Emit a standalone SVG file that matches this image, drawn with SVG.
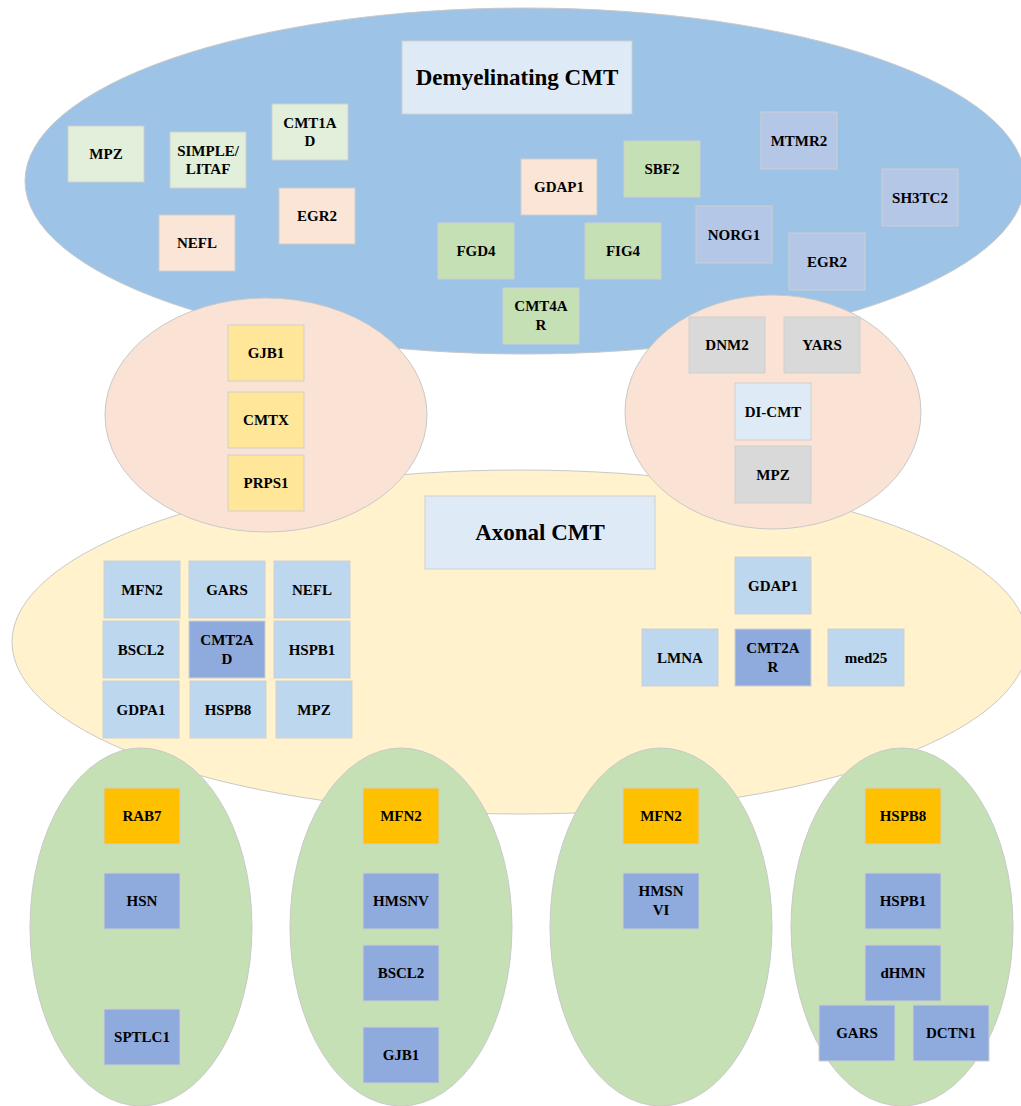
<svg xmlns="http://www.w3.org/2000/svg" width="1021" height="1106" viewBox="0 0 1021 1106">
<style>
.bg{stroke:#C9C9C9;stroke-width:1}
rect{stroke:#CFCFCF;stroke-width:1}
text{font-family:"Liberation Serif","Times New Roman",serif;font-weight:bold;font-size:15px;fill:#000;text-anchor:middle}
.t{font-size:23px}
.lg{fill:#E2EFDA}.pe{fill:#FBE5D6}.gr{fill:#C5E0B4}.lv{fill:#B4C7E7}.ye{fill:#FFE699}.gy{fill:#D9D9D9}.lb{fill:#DEEBF7}.sb{fill:#BDD7EE}.db{fill:#8FAADC}.or{fill:#FFC000}
</style>
<g id="demyelinating-group">
<ellipse class="bg" cx="525" cy="181" rx="500" ry="173" fill="#9DC3E6"/>
</g>
<g id="demyelinating-title"><rect class="lb" x="402" y="41" width="230" height="73"/><text class="t" x="517" y="85">Demyelinating CMT</text></g>
<g id="d-mpz"><rect class="lg" x="68" y="126" width="76" height="56"/><text x="106" y="159">MPZ</text></g>
<g id="d-simple"><rect class="lg" x="170" y="132" width="76" height="56"/><text x="208" y="156">SIMPLE/</text><text x="208" y="174">LITAF</text></g>
<g id="d-cmt1ad"><rect class="lg" x="272" y="104" width="76" height="56"/><text x="310" y="128">CMT1A</text><text x="310" y="146">D</text></g>
<g id="d-egr2a"><rect class="pe" x="279" y="188" width="76" height="56"/><text x="317" y="221">EGR2</text></g>
<g id="d-nefl"><rect class="pe" x="159" y="215" width="76" height="56"/><text x="197" y="248">NEFL</text></g>
<g id="d-fgd4"><rect class="gr" x="438" y="223" width="76" height="56"/><text x="476" y="256">FGD4</text></g>
<g id="d-cmt4ar"><rect class="gr" x="503" y="288" width="76" height="56"/><text x="541" y="311">CMT4A</text><text x="541" y="330">R</text></g>
<g id="d-gdap1"><rect class="pe" x="521" y="159" width="76" height="56"/><text x="559" y="192">GDAP1</text></g>
<g id="d-sbf2"><rect class="gr" x="624" y="141" width="76" height="56"/><text x="662" y="174">SBF2</text></g>
<g id="d-fig4"><rect class="gr" x="585" y="223" width="76" height="56"/><text x="623" y="256">FIG4</text></g>
<g id="d-mtmr2"><rect class="lv" x="761" y="112" width="76" height="57"/><text x="799" y="146">MTMR2</text></g>
<g id="d-norg1"><rect class="lv" x="696" y="206" width="76" height="57"/><text x="734" y="240">NORG1</text></g>
<g id="d-egr2b"><rect class="lv" x="789" y="233" width="76" height="57"/><text x="827" y="267">EGR2</text></g>
<g id="d-sh3tc2"><rect class="lv" x="882" y="169" width="76" height="57"/><text x="920" y="203">SH3TC2</text></g>

<g id="axonal-group">
<ellipse class="bg" cx="520" cy="642" rx="508" ry="172" fill="#FFF2CC"/>
</g>
<g id="cmtx-group">
<ellipse class="bg" cx="266" cy="415" rx="161" ry="117" fill="#FAE3D4"/>
</g>
<g id="x-gjb1"><rect class="ye" x="228" y="325" width="76" height="56"/><text x="266" y="358">GJB1</text></g>
<g id="x-cmtx"><rect class="ye" x="228" y="392" width="76" height="56"/><text x="266" y="425">CMTX</text></g>
<g id="x-prps1"><rect class="ye" x="228" y="455" width="76" height="56"/><text x="266" y="488">PRPS1</text></g>

<g id="dicmt-group">
<ellipse class="bg" cx="773" cy="412" rx="148" ry="117" fill="#FAE3D4"/>
</g>
<g id="i-dnm2"><rect class="gy" x="689" y="317" width="76" height="56"/><text x="727" y="350">DNM2</text></g>
<g id="i-yars"><rect class="gy" x="784" y="317" width="76" height="56"/><text x="822" y="350">YARS</text></g>
<g id="i-dicmt"><rect class="lb" x="735" y="383" width="76" height="57"/><text x="773" y="417">DI-CMT</text></g>
<g id="i-mpz"><rect class="gy" x="735" y="446" width="76" height="57"/><text x="773" y="480">MPZ</text></g>

<g id="axonal-title"><rect class="lb" x="425" y="496" width="230" height="73"/><text class="t" x="540" y="540">Axonal CMT</text></g>
<g id="a-mfn2"><rect class="sb" x="104" y="561" width="76" height="57"/><text x="142" y="595">MFN2</text></g>
<g id="a-gars"><rect class="sb" x="189" y="561" width="76" height="57"/><text x="227" y="595">GARS</text></g>
<g id="a-nefl"><rect class="sb" x="274" y="561" width="76" height="57"/><text x="312" y="595">NEFL</text></g>
<g id="a-bscl2"><rect class="sb" x="103" y="621" width="76" height="57"/><text x="141" y="655">BSCL2</text></g>
<g id="a-cmt2ad"><rect class="db" x="189" y="621" width="76" height="57"/><text x="227" y="645">CMT2A</text><text x="227" y="664">D</text></g>
<g id="a-hspb1"><rect class="sb" x="274" y="621" width="76" height="57"/><text x="312" y="655">HSPB1</text></g>
<g id="a-gdpa1"><rect class="sb" x="103" y="681" width="76" height="57"/><text x="141" y="715">GDPA1</text></g>
<g id="a-hspb8"><rect class="sb" x="190" y="681" width="76" height="57"/><text x="228" y="715">HSPB8</text></g>
<g id="a-mpz"><rect class="sb" x="276" y="681" width="76" height="57"/><text x="314" y="715">MPZ</text></g>
<g id="a-gdap1"><rect class="sb" x="735" y="557" width="76" height="57"/><text x="773" y="591">GDAP1</text></g>
<g id="a-lmna"><rect class="sb" x="642" y="629" width="76" height="57"/><text x="680" y="663">LMNA</text></g>
<g id="a-cmt2ar"><rect class="db" x="735" y="629" width="76" height="57"/><text x="773" y="653">CMT2A</text><text x="773" y="672">R</text></g>
<g id="a-med25"><rect class="sb" x="828" y="629" width="76" height="57"/><text x="866" y="663">med25</text></g>

<g id="hsn-group"><ellipse class="bg" cx="141" cy="927" rx="111" ry="179" fill="#C5E0B4"/></g>
<g id="h-rab7"><rect class="or" x="104" y="788" width="76" height="56"/><text x="142" y="821">RAB7</text></g>
<g id="h-hsn"><rect class="db" x="104" y="873" width="76" height="56"/><text x="142" y="906">HSN</text></g>
<g id="h-sptlc1"><rect class="db" x="104" y="1009" width="76" height="56"/><text x="142" y="1042">SPTLC1</text></g>

<g id="hmsnv-group"><ellipse class="bg" cx="401" cy="927" rx="111" ry="179" fill="#C5E0B4"/></g>
<g id="v-mfn2"><rect class="or" x="363" y="788" width="76" height="56"/><text x="401" y="821">MFN2</text></g>
<g id="v-hmsnv"><rect class="db" x="363" y="873" width="76" height="56"/><text x="401" y="906">HMSNV</text></g>
<g id="v-bscl2"><rect class="db" x="363" y="945" width="76" height="56"/><text x="401" y="978">BSCL2</text></g>
<g id="v-gjb1"><rect class="db" x="363" y="1027" width="76" height="56"/><text x="401" y="1060">GJB1</text></g>

<g id="hmsnvi-group"><ellipse class="bg" cx="661" cy="927" rx="111" ry="179" fill="#C5E0B4"/></g>
<g id="vi-mfn2"><rect class="or" x="623" y="788" width="76" height="56"/><text x="661" y="821">MFN2</text></g>
<g id="vi-hmsnvi"><rect class="db" x="623" y="873" width="76" height="56"/><text x="661" y="896">HMSN</text><text x="661" y="915">VI</text></g>

<g id="dhmn-group"><ellipse class="bg" cx="902" cy="927" rx="111" ry="179" fill="#C5E0B4"/></g>
<g id="m-hspb8"><rect class="or" x="865" y="788" width="76" height="56"/><text x="903" y="821">HSPB8</text></g>
<g id="m-hspb1"><rect class="db" x="865" y="873" width="76" height="56"/><text x="903" y="906">HSPB1</text></g>
<g id="m-dhmn"><rect class="db" x="865" y="945" width="76" height="56"/><text x="903" y="978">dHMN</text></g>
<g id="m-gars"><rect class="db" x="819" y="1005" width="76" height="56"/><text x="857" y="1038">GARS</text></g>
<g id="m-dctn1"><rect class="db" x="913" y="1005" width="76" height="56"/><text x="951" y="1038">DCTN1</text></g>
<g id="connectors"></g>
</svg>
